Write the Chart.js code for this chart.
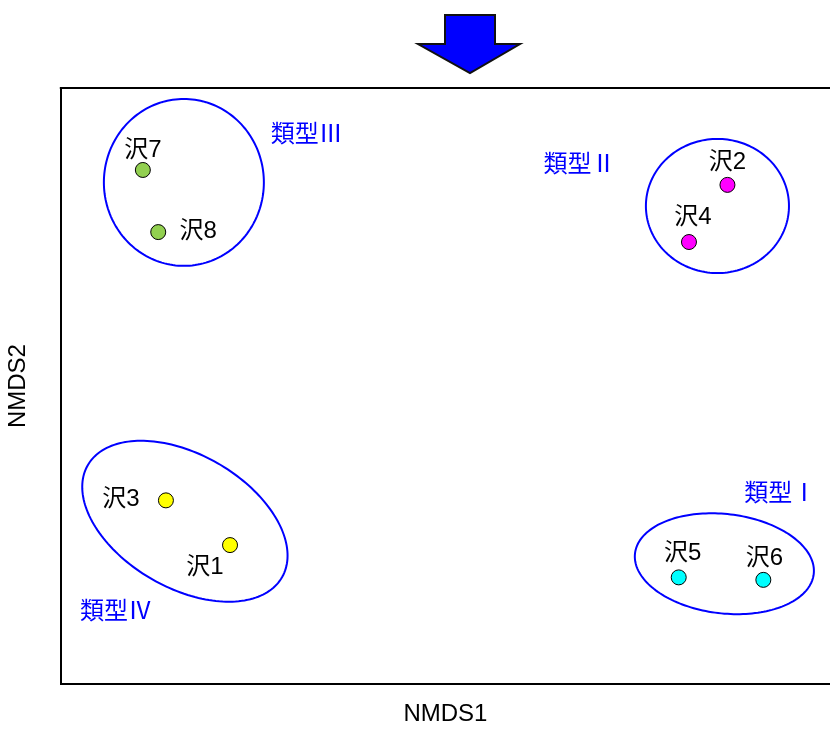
<!DOCTYPE html>
<html>
<head>
<meta charset="utf-8">
<script src="https://cdn.jsdelivr.net/npm/chart.js@4/dist/chart.umd.min.js"></script>
<style>
  body { margin: 0; background: #fff; }
  canvas { display: block; }
</style>
</head>
<body>
<canvas id="myChart" width="830" height="729"></canvas>
<script>
// sites and their NMDS scores
const sites = ['沢1', '沢2', '沢3', '沢4', '沢5', '沢6', '沢7', '沢8'];
const nmds1 = [-0.84, 1.10, -1.09, 0.95, 0.91, 1.24, -1.18, -1.12];
const nmds2 = [-0.64, 0.81, -0.46, 0.58, -0.77, -0.78, 0.87, 0.62];
const siteType = [3, 1, 3, 1, 0, 0, 2, 2]; // index into types

// types and their ellipses (NMDS units)
const types = ['類型Ⅰ', '類型Ⅱ', '類型Ⅲ', '類型Ⅳ'];
const ellCx = [1.088, 1.061, -1.02, -1.016];
const ellCy = [-0.715, 0.725, 0.82, -0.544];
const ellA = [0.351, 0.279, 0.312, 0.441];
const ellB = [0.200, 0.270, 0.336, 0.266];
const ellAngle = [-7, 0, 0, -31.7];

// drawing stuff
const typeColors = ['#00ffff', '#ff00ff', '#92d050', '#ffff00'];
const siteLabelOffset = [[-25, 22], [0, -23], [-45, -1], [4, -25], [4, -24], [1, -21], [0, -20], [40, -1]];
const typeLabelOffset = [[56, -72], [-138, -43], [123, -50], [-69, 89]];
const blue = '#0000ff';
const jpFont = "'Liberation Sans', 'Noto Sans CJK JP', sans-serif";

const datasets = types.map((t, k) => {
  const pts = [];
  sites.forEach((s, i) => {
    if (siteType[i] === k) pts.push({ x: nmds1[i], y: nmds2[i], name: s, idx: i });
  });
  return {
    label: t,
    data: pts,
    backgroundColor: typeColors[k],
    borderColor: '#000',
    borderWidth: 1,
    pointRadius: 7.5,
    pointHoverRadius: 7.5
  };
});

const ellipses = {
  id: 'ellipses',
  afterDatasetsDraw(chart) {
    const { ctx, scales: { x, y } } = chart;
    ctx.save();
    ctx.strokeStyle = blue;
    ctx.lineWidth = 2;
    types.forEach((t, k) => {
      const phi = ellAngle[k] * Math.PI / 180;
      ctx.beginPath();
      for (let s = 0; s <= 180; s++) {
        const a = s / 180 * 2 * Math.PI;
        const dx = ellA[k] * Math.cos(a) * Math.cos(phi) - ellB[k] * Math.sin(a) * Math.sin(phi);
        const dy = ellA[k] * Math.cos(a) * Math.sin(phi) + ellB[k] * Math.sin(a) * Math.cos(phi);
        const px = x.getPixelForValue(ellCx[k] + dx);
        const py = y.getPixelForValue(ellCy[k] + dy);
        if (s === 0) ctx.moveTo(px, py); else ctx.lineTo(px, py);
      }
      ctx.closePath();
      ctx.stroke();

      // type label
      ctx.fillStyle = blue;
      ctx.font = "24px 'Noto Sans CJK JP', sans-serif";
      ctx.textAlign = 'center';
      ctx.textBaseline = 'middle';
      ctx.fillText(t,
        x.getPixelForValue(ellCx[k]) + typeLabelOffset[k][0],
        y.getPixelForValue(ellCy[k]) + typeLabelOffset[k][1]);
    });

    // site labels
    ctx.fillStyle = '#000';
    ctx.font = '24px ' + jpFont;
    chart.data.datasets.forEach((ds, d) => {
      chart.getDatasetMeta(d).data.forEach((el, j) => {
        const i = ds.data[j].idx;
        ctx.fillText(ds.data[j].name, el.x + siteLabelOffset[i][0], el.y + siteLabelOffset[i][1]);
      });
    });
    ctx.restore();
  }
};

const frame = {
  id: 'frame',
  afterDraw(chart) {
    const { ctx, chartArea: ca } = chart;
    ctx.save();
    // top edge of the box
    ctx.strokeStyle = '#000';
    ctx.lineWidth = 2;
    ctx.beginPath();
    ctx.moveTo(ca.left - 1, ca.top);
    ctx.lineTo(ca.right, ca.top);
    ctx.stroke();

    // blue arrow above the plot
    const cx = 470;
    ctx.beginPath();
    ctx.moveTo(cx - 25, 15);
    ctx.lineTo(cx + 25, 15);
    ctx.lineTo(cx + 25, 44);
    ctx.lineTo(cx + 50, 44);
    ctx.lineTo(cx, 73);
    ctx.lineTo(cx - 52, 44);
    ctx.lineTo(cx - 25, 44);
    ctx.closePath();
    ctx.fillStyle = blue;
    ctx.fill();
    ctx.lineWidth = 2;
    ctx.strokeStyle = '#111';
    ctx.stroke();
    ctx.restore();
  }
};

const ctx1 = document.getElementById('myChart');

new Chart(ctx1, {
  type: 'scatter',
  data: { datasets: datasets },
  options: {
    responsive: false,
    animation: false,
    layout: { autoPadding: false, padding: { top: 88, left: 0, right: 0, bottom: 0 } },
    plugins: {
      legend: { display: false },
      tooltip: { enabled: false }
    },
    scales: {
      x: {
        type: 'linear',
        min: -1.5,
        max: 1.5,
        ticks: { display: false },
        grid: { display: false, drawTicks: false },
        border: { display: true, color: '#000', width: 2 },
        title: {
          display: true,
          text: 'NMDS1',
          color: '#000',
          font: { family: "'Liberation Sans', Arial, sans-serif", size: 24 },
          padding: { top: 16, bottom: 0 }
        }
      },
      y: {
        type: 'linear',
        min: -1.2,
        max: 1.2,
        ticks: { display: false },
        grid: { display: false, drawTicks: false },
        border: { display: true, color: '#000', width: 2 },
        title: {
          display: true,
          text: 'NMDS2',
          color: '#000',
          font: { family: "'Liberation Sans', Arial, sans-serif", size: 24 },
          padding: { top: 4, bottom: 28 }
        }
      }
    }
  },
  plugins: [ellipses, frame]
});
</script>
</body>
</html>
